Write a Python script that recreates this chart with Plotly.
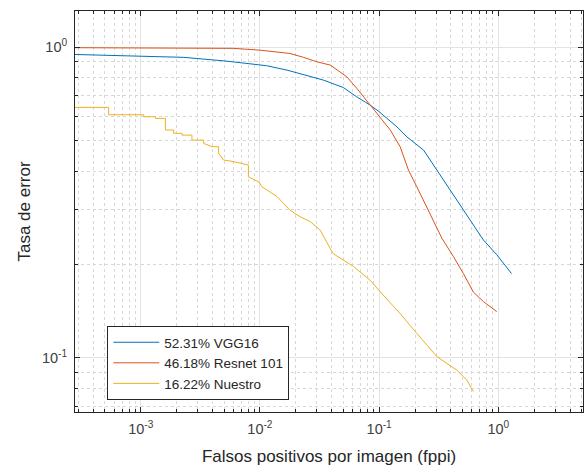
import plotly.graph_objects as go
import numpy as np

# ---- data ----
vgg_x = [2.81e-4, 1.0e-3, 2.3e-3, 5.3e-3, 1.0e-2, 0.0114, 0.0169, 0.0218, 0.034, 0.050, 0.065,
         0.084, 0.100, 0.141, 0.171, 0.236, 0.305, 0.394, 0.509, 0.659, 0.748, 0.97, 1.29]
vgg_y = [0.949, 0.937, 0.929, 0.903, 0.882, 0.873, 0.845, 0.822, 0.785, 0.743, 0.693,
         0.652, 0.621, 0.555, 0.515, 0.467, 0.403, 0.347, 0.299, 0.258, 0.240, 0.215, 0.187]

res_x = [2.81e-4, 1.0e-3, 6.0e-3, 1.0e-2, 0.0139, 0.0179, 0.0232, 0.030, 0.039, 0.047, 0.0536,
         0.065, 0.084, 0.102, 0.124, 0.150, 0.176, 0.207, 0.251, 0.314, 0.336, 0.42, 0.509,
         0.617, 0.748, 0.97]
res_y = [0.998, 0.997, 0.993, 0.980, 0.968, 0.956, 0.929, 0.899, 0.877, 0.835, 0.804,
         0.738, 0.652, 0.598, 0.542, 0.479, 0.403, 0.356, 0.307, 0.258, 0.243, 0.212, 0.187,
         0.163, 0.152, 0.141]

nue_x = [2.81e-4, 5.38e-4, 5.38e-4, 1.06e-3, 1.06e-3, 1.33e-3, 1.33e-3, 1.61e-3, 1.61e-3,
         1.89e-3, 1.89e-3, 2.22e-3, 2.22e-3, 2.69e-3, 2.69e-3, 3.37e-3, 3.37e-3, 3.96e-3,
         4.5e-3, 4.5e-3, 4.95e-3, 6.0e-3, 8.0e-3, 8.0e-3, 9.8e-3, 0.0104, 0.0139, 0.0179,
         0.0217, 0.0264, 0.032, 0.041, 0.061, 0.084, 0.104, 0.150, 0.207, 0.305, 0.448,
         0.543, 0.617]
nue_y = [0.641, 0.641, 0.607, 0.607, 0.598, 0.598, 0.591, 0.591, 0.542,
         0.542, 0.529, 0.529, 0.522, 0.522, 0.503, 0.503, 0.491, 0.479,
         0.479, 0.456, 0.434, 0.429, 0.418, 0.383, 0.369, 0.356, 0.331, 0.299,
         0.285, 0.275, 0.258, 0.217, 0.197, 0.178, 0.162, 0.139, 0.120, 0.101, 0.0914,
         0.085, 0.078]

names = ["52.31% VGG16", "46.18% Resnet 101", "16.22% Nuestro"]
colors = ["#0072BD", "#D95319", "#EDB120"]

x_ticks = [1e-3, 1e-2, 1e-1, 1]
x_ticktext = ["10<sup>-3</sup>", "10<sup>-2</sup>", "10<sup>-1</sup>", "10<sup>0</sup>"]
y_ticks = [1e-1, 1]
y_ticktext = ["10<sup>-1</sup>", "10<sup>0</sup>"]

x_minor = [m * 10.0 ** e for e in range(-4, 1) for m in range(2, 10)]
y_minor = [m * 10.0 ** e for e in range(-2, 1) for m in range(2, 10)]

FONT = "Liberation Sans, Arial"

fig = go.Figure()
fig.add_trace(go.Scatter(x=vgg_x, y=vgg_y, mode="lines", name=names[0],
                         line=dict(color=colors[0], width=1)))
fig.add_trace(go.Scatter(x=res_x, y=res_y, mode="lines", name=names[1],
                         line=dict(color=colors[1], width=1)))
fig.add_trace(go.Scatter(x=nue_x, y=nue_y, mode="lines", name=names[2],
                         line=dict(color=colors[2], width=1)))

axis_common = dict(
    showline=True, linecolor="#262626", linewidth=1, mirror="ticks",
    ticks="inside", ticklen=5, tickcolor="#262626",
    showgrid=True, gridcolor="#e3e3e3", gridwidth=1,
    zeroline=False, automargin=False,
    tickfont=dict(family=FONT, size=14.5, color="#404040"),
)

fig.update_xaxes(
    type="log", range=[np.log10(2.81e-4), np.log10(5.13)],
    tickmode="array", tickvals=x_ticks, ticktext=x_ticktext,
    minor=dict(tickmode="array", tickvals=x_minor, ticks="inside", ticklen=3,
               tickcolor="#262626", showgrid=True, gridcolor="#d8d8d8", griddash="dot"),
    title=dict(text="Falsos positivos por imagen (fppi)",
               font=dict(family=FONT, size=17, color="#262626"), standoff=13),
    ticklabelstandoff=4,
    **axis_common,
)
fig.update_yaxes(
    type="log", range=[np.log10(0.067), np.log10(1.31)],
    tickmode="array", tickvals=y_ticks, ticktext=y_ticktext,
    minor=dict(tickmode="array", tickvals=y_minor, ticks="inside", ticklen=3,
               tickcolor="#262626", showgrid=True, gridcolor="#d8d8d8", griddash="dot"),
    title=dict(text="Tasa de error",
               font=dict(family=FONT, size=17, color="#262626"), standoff=6),
    ticklabelstandoff=4,
    **axis_common,
)

fig.update_layout(
    width=584, height=469,
    margin=dict(l=75, r=1, t=11, b=57),
    paper_bgcolor="white", plot_bgcolor="white",
    font=dict(family=FONT, color="#262626"),
    legend=dict(x=0.0636, y=0.2145, xanchor="left", yanchor="top",
                bgcolor="white", bordercolor="#262626", borderwidth=1,
                font=dict(family=FONT, size=13.5, color="#262626"),
                tracegroupgap=0, itemwidth=46),
    showlegend=True,
)

post = ("document.body.style.margin='0';document.body.style.padding='0';"
        "document.body.style.overflow='hidden';"
        "var gd=document.getElementById('{plot_id}');"
        "Plotly.relayout(gd,{width:584,height:469});")
fig.write_html("out.html", post_script=post,
               config={"responsive": False, "displayModeBar": False})
